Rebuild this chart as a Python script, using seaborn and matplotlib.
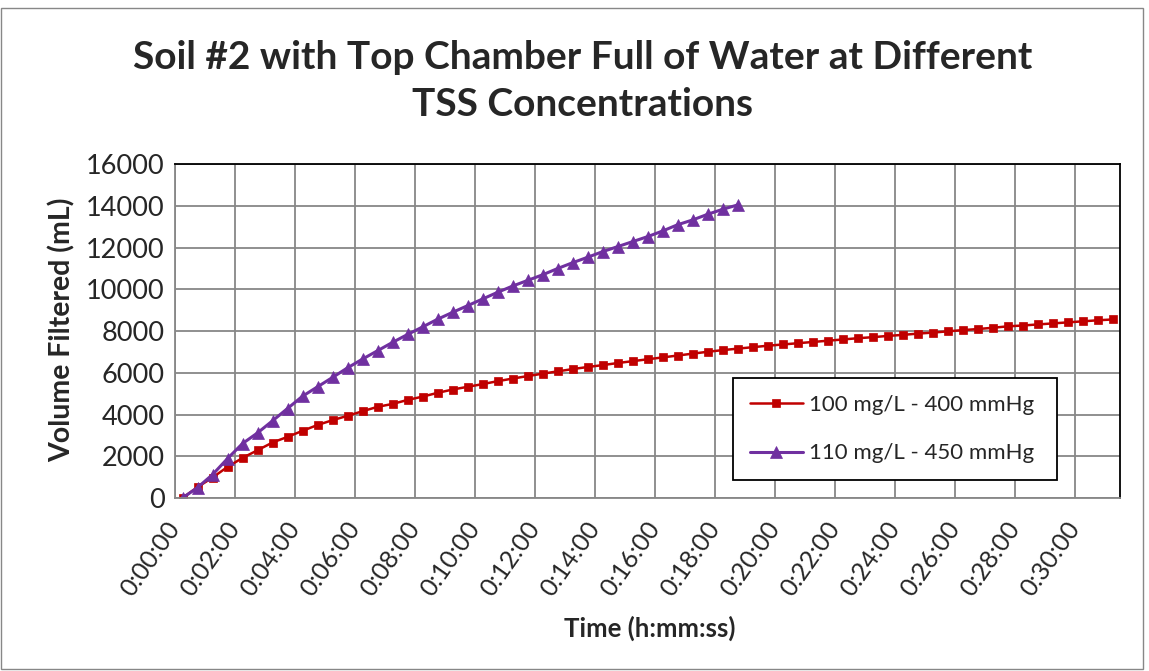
import numpy as np
import pandas as pd
import matplotlib
matplotlib.use("Agg")
import matplotlib.pyplot as plt
import matplotlib.transforms as mtransforms
from matplotlib.patches import Rectangle
from matplotlib.ticker import MultipleLocator
import seaborn as sns

# Elapsed time (seconds) and volume filtered (mL)
red_label = "100 mg/L - 400 mmHg"
red_sec = [15, 45, 75, 105, 135, 165, 195, 225, 255, 285, 315, 345, 375, 405, 435,
           465, 495, 525, 555, 585, 615, 645, 675, 705, 735, 765, 795, 825, 855, 885,
           915, 945, 975, 1005, 1035, 1065, 1095, 1125, 1155, 1185, 1215, 1245, 1275,
           1305, 1335, 1365, 1395, 1425, 1455, 1485, 1515, 1545, 1575, 1605, 1635,
           1665, 1695, 1725, 1755, 1785, 1815, 1845, 1875]
red_vol = [0, 520, 980, 1490, 1920, 2290, 2660, 2930, 3220, 3500, 3730, 3940, 4160,
           4370, 4510, 4700, 4860, 5040, 5200, 5330, 5460, 5600, 5725, 5845, 5960,
           6070, 6180, 6280, 6370, 6470, 6560, 6650, 6740, 6830, 6920, 7010, 7090,
           7160, 7230, 7300, 7360, 7420, 7480, 7540, 7600, 7660, 7710, 7770, 7820,
           7880, 7930, 7990, 8050, 8100, 8160, 8230, 8270, 8320, 8370, 8420, 8470,
           8520, 8560]

purple_label = "110 mg/L - 450 mmHg"
purple_sec = [15, 45, 75, 105, 135, 165, 195, 225, 255, 285, 315, 345, 375, 405, 435,
              465, 495, 525, 555, 585, 615, 645, 675, 705, 735, 765, 795, 825, 855,
              885, 915, 945, 975, 1005, 1035, 1065, 1095, 1125]
purple_vol = [0, 500, 1120, 1890, 2610, 3120, 3700, 4290, 4880, 5330, 5780, 6240,
              6660, 7060, 7460, 7840, 8200, 8570, 8900, 9220, 9540, 9860, 10160,
              10430, 10700, 11000, 11280, 11540, 11810, 12050, 12290, 12530, 12800,
              13100, 13330, 13600, 13840, 14050]

x_ticks_min = [0, 2, 4, 6, 8, 10, 12, 14, 16, 18, 20, 22, 24, 26, 28, 30]
y_ticks = [0, 2000, 4000, 6000, 8000, 10000, 12000, 14000, 16000]

RED = "#C00000"
PURPLE = "#7030A0"
GRID = "#878787"

sns.set_style("white")
plt.rcParams["font.family"] = ["Lato", "DejaVu Sans"]

df_red = pd.DataFrame({"minutes": np.array(red_sec) / 60, "volume": red_vol})
df_purple = pd.DataFrame({"minutes": np.array(purple_sec) / 60, "volume": purple_vol})

fig, ax = plt.subplots(figsize=(11.49, 6.71), dpi=100)
fig.subplots_adjust(left=175 / 1149, right=1120 / 1149, bottom=1 - 498 / 671, top=1 - 164.3 / 671)

sns.lineplot(data=df_red, x="minutes", y="volume", ax=ax, color=RED, linewidth=1.8,
             marker="s", markersize=5.5, markeredgecolor=RED, markeredgewidth=0.5,
             label=red_label, sort=False, errorbar=None)
sns.lineplot(data=df_purple, x="minutes", y="volume", ax=ax, color=PURPLE, linewidth=2.2,
             marker="^", markersize=9, markeredgecolor=PURPLE, markeredgewidth=0.5,
             label=purple_label, sort=False, errorbar=None)

ax.set_xlim(0, 31.5)
ax.set_ylim(0, 16000)


def hms(minutes):
    s = int(round(minutes * 60))
    return f"{s // 3600}:{s % 3600 // 60:02d}:{s % 60:02d}"


ax.set_xticks(x_ticks_min)
ax.set_xticklabels([hms(m) for m in x_ticks_min], rotation=55, ha="right", va="center",
                   rotation_mode="anchor", fontsize=18)
ax.xaxis.set_minor_locator(MultipleLocator(1))
ax.set_yticks(y_ticks)
ax.set_yticklabels([str(v) for v in y_ticks], fontsize=19.5)

# shift the rotated time labels a little to the right, as in the original
offset = mtransforms.ScaledTranslation(15 / 100, 0, fig.dpi_scale_trans)
for lab in ax.get_xticklabels():
    lab.set_transform(lab.get_transform() + offset)

ax.grid(True, which="major", color=GRID, linewidth=1.3)
ax.tick_params(axis="x", which="major", direction="out", length=6.5, width=1.3, color=GRID, pad=12)
ax.tick_params(axis="x", which="minor", direction="out", length=3.6, width=1.3, color=GRID)
ax.tick_params(axis="y", direction="out", length=6.5, width=1.3, color=GRID, pad=1)

for side in ["left", "bottom"]:
    ax.spines[side].set_color(GRID)
    ax.spines[side].set_linewidth(1.3)
for side in ["top", "right"]:
    ax.spines[side].set_color("black")
    ax.spines[side].set_linewidth(1.3)

ax.set_xlabel("")
ax.set_ylabel("")
fig.text(62 / 1149, 1 - 330 / 671, "Volume Filtered (mL)", rotation=90, ha="center", va="center",
         fontsize=20.5, fontweight="bold")
fig.text(650 / 1149, 1 - 628 / 671, "Time (h:mm:ss)", ha="center", va="center",
         fontsize=18.5, fontweight="bold")
fig.suptitle("Soil #2 with Top Chamber Full of Water at Different\nTSS Concentrations",
             x=0.507, y=1 - 81 / 671, va="center", fontsize=28, fontweight="bold", linespacing=1.4)

leg = ax.legend(loc="upper left", bbox_to_anchor=(0.5905, 0.06, 0.343, 0.30), mode="expand",
                borderaxespad=0, frameon=True, fancybox=False, edgecolor="black", framealpha=1,
                fontsize=16, handlelength=2.4, handletextpad=0.25, labelspacing=1.3, borderpad=0.75)
leg.get_frame().set_linewidth(1.3)

fig.patches.append(Rectangle((0.001, 0.003), 0.9938, 0.985, transform=fig.transFigure,
                             fill=False, edgecolor=GRID, linewidth=1))

fig.savefig("out.png", dpi=100)
